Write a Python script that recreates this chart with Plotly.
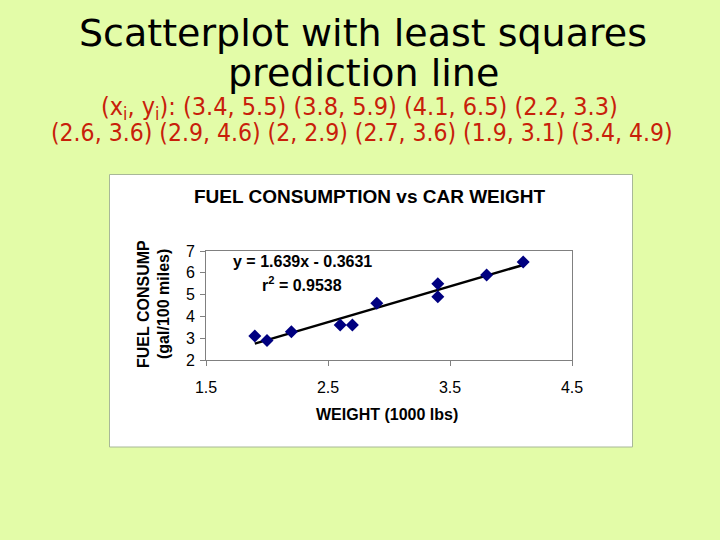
import plotly.graph_objects as go

# ---- data ----
weight = [3.4, 3.8, 4.1, 2.2, 2.6, 2.9, 2.0, 2.7, 1.9, 3.4]
fuel = [5.5, 5.9, 6.5, 3.3, 3.6, 4.6, 2.9, 3.6, 3.1, 4.9]
trend_x = [1.9, 4.1]
trend_y = [2.75, 6.36]
x_ticks = [1.5, 2.5, 3.5, 4.5]
y_ticks = [2, 3, 4, 5, 6, 7]
equation = "y = 1.639x - 0.3631"
r2_text = "r<sup>2</sup> = 0.9538"
pairs_line1 = "(x<sub>i</sub>, y<sub>i</sub>): (3.4, 5.5) (3.8, 5.9) (4.1, 6.5) (2.2, 3.3)"
pairs_line2 = "(2.6, 3.6) (2.9, 4.6) (2, 2.9) (2.7, 3.6) (1.9, 3.1) (3.4, 4.9)"

SLIDE = "#E3FCA8"
# plot area in pixels
L, R, T, B = 206, 572, 251, 360
W, H = 720, 540
pw, ph = R - L, B - T


def px(x):
    return (x - L) / pw


def py(y):
    return (B - y) / ph


fig = go.Figure()
fig.add_trace(go.Scatter(x=trend_x, y=trend_y, mode="lines",
                         line=dict(color="black", width=2.5), hoverinfo="skip"))
fig.add_trace(go.Scatter(x=weight, y=fuel, mode="markers",
                         marker=dict(symbol="diamond", size=10, color="#000080",
                                     line=dict(width=0))))

arial = "Arial, Liberation Sans, sans-serif"

fig.update_layout(
    width=W, height=H, showlegend=False,
    paper_bgcolor=SLIDE, plot_bgcolor="#C0C0C0",
    margin=dict(l=L, r=W - R, t=T, b=H - B, pad=0),
    xaxis=dict(range=[1.5, 4.5], tickvals=x_ticks, ticktext=[str(v) for v in x_ticks],
               showgrid=False, zeroline=False, showline=True, linecolor="#808080",
               linewidth=1, mirror=True, ticks="outside", ticklen=5, tickcolor="#808080",
               ticklabelstandoff=8,
               tickfont=dict(family=arial, size=16, color="black")),
    yaxis=dict(range=[2, 7], tickvals=y_ticks, showgrid=False, zeroline=False,
               showline=True, linecolor="#808080", linewidth=1, mirror=True,
               ticks="outside", ticklen=5, tickcolor="#808080", ticklabelstandoff=2,
               tickfont=dict(family=arial, size=16, color="black")),
    shapes=[dict(type="rect", xref="paper", yref="paper", layer="below",
                 x0=px(109.5), x1=px(632.5), y0=py(447), y1=py(174.5),
                 fillcolor="white", line=dict(color="#A8B898", width=1))],
)

ann = []
ann.append(dict(text="Scatterplot with least squares", x=px(363), y=py(33), font=dict(family="DejaVu Sans", size=38, color="black")))
ann.append(dict(text="prediction line", x=px(363), y=py(73), font=dict(family="DejaVu Sans", size=38, color="black")))
ann.append(dict(text=pairs_line1, x=px(359), y=py(108), font=dict(family="Liberation Sans Narrow, DejaVu Sans Condensed, sans-serif", size=25, color="#C8200A")))
ann.append(dict(text=pairs_line2, x=px(362), y=py(132), font=dict(family="Liberation Sans Narrow, DejaVu Sans Condensed, sans-serif", size=24.5, color="#C8200A")))
ann.append(dict(text="<b>FUEL CONSUMPTION vs CAR WEIGHT</b>", x=px(370), y=py(196), font=dict(family=arial, size=19, color="black")))
ann.append(dict(text="<b>FUEL CONSUMP</b>", x=px(143), y=py(304), textangle=-90, font=dict(family=arial, size=16, color="black")))
ann.append(dict(text="<b>(gal/100 miles)</b>", x=px(163), y=py(304), textangle=-90, font=dict(family=arial, size=16, color="black")))
ann.append(dict(text="<b>WEIGHT (1000 lbs)</b>", x=px(387), y=py(414), font=dict(family=arial, size=16, color="black")))
ann.append(dict(text="<b>" + equation + "</b>", x=px(302), y=py(261), font=dict(family=arial, size=16, color="black")))
ann.append(dict(text="<b>" + r2_text + "</b>", x=px(302), y=py(284), font=dict(family=arial, size=16, color="black")))
for a in ann:
    a.update(xref="paper", yref="paper", showarrow=False, xanchor="center", yanchor="middle")
fig.update_layout(annotations=ann)

fig.write_html("out.html", config={"displayModeBar": False},
               post_script="document.body.style.margin='0';")
